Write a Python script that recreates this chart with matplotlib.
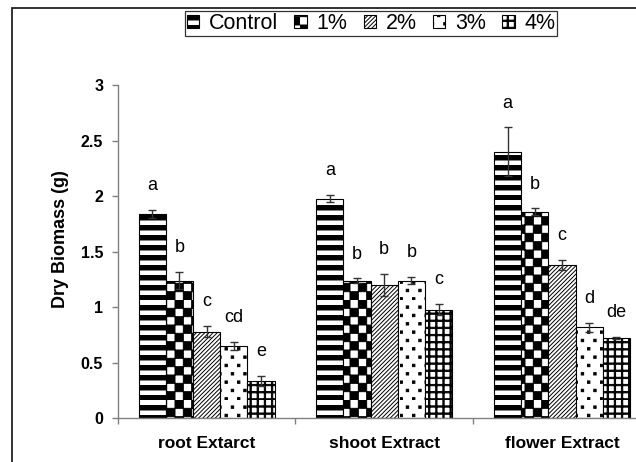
import numpy as np
import matplotlib
matplotlib.use("Agg")
import matplotlib.pyplot as plt
import matplotlib.hatch as mhatch
from matplotlib.path import Path
from matplotlib.patches import Rectangle
from matplotlib.ticker import FixedLocator, FormatStrFormatter

#data
groups = ["root Extarct", "shoot Extract", "flower Extract"]
treatments = ["Control", "1%", "2%", "3%", "4%"]

root_mean = [1.84, 1.24, 0.78, 0.65, 0.34]
root_err = [0.04, 0.075, 0.05, 0.035, 0.045]
root_letters = ["a", "b", "c", "cd", "e"]

shoot_mean = [1.98, 1.24, 1.20, 1.24, 0.98]
shoot_err = [0.03, 0.02, 0.10, 0.03, 0.05]
shoot_letters = ["a", "b", "b", "b", "c"]

flower_mean = [2.40, 1.86, 1.38, 0.82, 0.72]
flower_err = [0.22, 0.03, 0.045, 0.04, 0.01]
flower_letters = ["a", "b", "c", "d", "de"]

means = [root_mean, shoot_mean, flower_mean]
errs = [root_err, shoot_err, flower_err]
letters = [root_letters, shoot_letters, flower_letters]

hatches = ["---", "xx", "////", "..", "++"]


#excel-like fill patterns (hatch unit cell = 1 inch)
_orig_get_path = mhatch.get_path

def boxes(rects):
    verts, codes = [], []
    for x0, y0, w, h in rects:
        verts += [(x0, y0), (x0 + w, y0), (x0 + w, y0 + h), (x0, y0 + h), (x0, y0)]
        codes += [Path.MOVETO, Path.LINETO, Path.LINETO, Path.LINETO, Path.CLOSEPOLY]
    return Path(verts, codes)

def excel_hatch(pattern, density=6):
    if pattern == "---":
        return boxes([(0, i / 10, 1, 0.045) for i in range(10)])
    if pattern == "xx":
        n = 12
        return boxes([(i / n, j / n, 1 / n, 1 / n)
                      for i in range(n) for j in range(n) if (i + j) % 2 == 0])
    if pattern == "////":
        n = 24
        verts, codes = [], []
        for x0 in np.arange(-n, n) / n:
            verts += [(x0, 0), (x0 + 1, 1)]
            codes += [Path.MOVETO, Path.LINETO]
        return Path(verts, codes)
    if pattern == "..":
        s = 0.024
        return boxes([((k + 0.5 * (j % 2)) / 8, j / 12, s, s)
                      for j in range(12) for k in range(8)])
    if pattern == "++":
        n = 14
        t = 0.013
        return boxes([(i / n, 0, t, 1) for i in range(n)] +
                     [(0, i / n, 1, t) for i in range(n)])
    return _orig_get_path(pattern, density)

mhatch.get_path = excel_hatch

plt.rcParams["font.family"] = ["Liberation Sans", "DejaVu Sans"]
plt.rcParams["hatch.linewidth"] = 0.7

fig = plt.figure(figsize=(6.36, 4.62), dpi=100)
ax = fig.add_axes([0.1851, 0.0946, 0.8382, 0.7208])

w = 0.153
x = np.arange(len(groups)) + 0.5

bars = []
for k, name in enumerate(treatments):
    vals = [m[k] for m in means]
    ee = [e[k] for e in errs]
    pos = x + (k - 2) * w
    b = ax.bar(pos, vals, w, color="white", edgecolor="black", linewidth=0.8,
               hatch=hatches[k], label=name, zorder=2)
    bars.append(b)
    ax.errorbar(pos, vals, yerr=ee, fmt="none", ecolor="#333333",
                elinewidth=1, capsize=3, capthick=1, zorder=3)
    for xi, v, e, lab in zip(pos, vals, ee, [l[k] for l in letters]):
        ax.text(xi, v + e + 0.22, lab, ha="center", va="center", fontsize=13)

ax.set_xlim(0, 3)
ax.set_ylim(0, 3)

for s in ["top", "right"]:
    ax.spines[s].set_visible(False)
for s in ["left", "bottom"]:
    ax.spines[s].set_color("#808080")
    ax.spines[s].set_linewidth(1)

ax.yaxis.set_major_locator(FixedLocator([0, 0.5, 1, 1.5, 2, 2.5, 3]))
ax.yaxis.set_major_formatter(FormatStrFormatter("%g"))
ax.tick_params(axis="y", direction="out", length=4.5, width=1, color="#808080",
               pad=6, labelsize=11.5)
for t in ax.get_yticklabels():
    t.set_fontweight("bold")

ax.xaxis.set_major_locator(FixedLocator([0, 1, 2, 3]))
ax.xaxis.set_minor_locator(FixedLocator(x))
ax.set_xticklabels([], minor=False)
ax.set_xticklabels(groups, minor=True, fontweight="bold", fontsize=12.5)
ax.tick_params(axis="x", which="major", direction="out", length=4.5, width=1,
               color="#808080")
ax.tick_params(axis="x", which="minor", length=0, pad=13)

ax.set_ylabel("Dry Biomass (g)", fontsize=13, fontweight="bold", va="center")
ax.yaxis.set_label_coords(-0.108, 0.538)

leg = fig.legend(handles=bars, loc="upper center", ncol=5,
                 bbox_to_anchor=(371 / 636, 1 - 11 / 462), fontsize=15.5,
                 frameon=True, fancybox=False, shadow=False,
                 handlelength=0.58, handleheight=0.58, handletextpad=0.45,
                 columnspacing=0.75, borderpad=0.1, borderaxespad=0)
leg.get_frame().set_edgecolor("black")
leg.get_frame().set_linewidth(0.9)

#chart area border, cropped at right and bottom
fig.add_artist(Rectangle((12 / 636, -0.2), 1.2, 1.2 - 8 / 462, fill=False,
                         edgecolor="#222222", linewidth=1.3,
                         transform=fig.transFigure))

fig.savefig("out.png", dpi=100)
plt.close()
